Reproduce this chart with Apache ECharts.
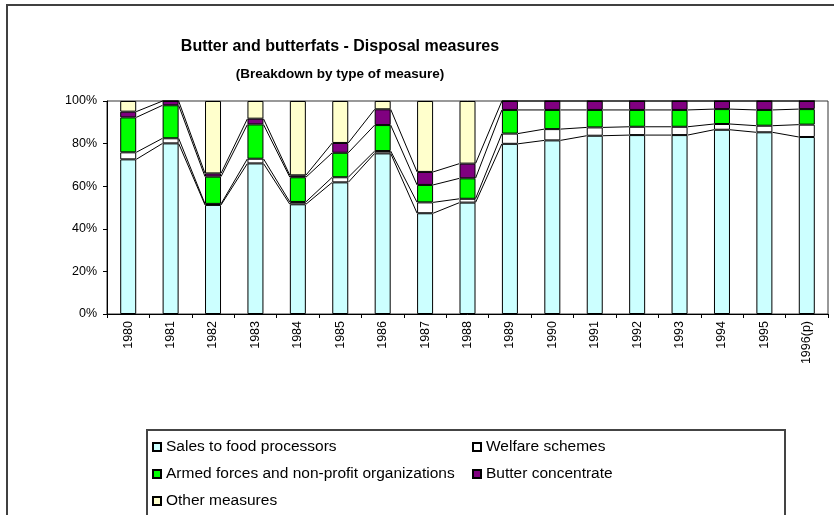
<!DOCTYPE html>
<html lang="en">
<head>
  <meta charset="UTF-8">
  <title>Butter and butterfats - Disposal measures</title>
  <script src="https://cdn.jsdelivr.net/npm/echarts@6/dist/echarts.min.js"></script>
  <style>
    html, body { margin: 0; padding: 0; background: #fff; }
  </style>
</head>
<body>
  <div id="chart" style="width: 834px; height: 515px;"></div>
  <script>
    // years on the x axis
    var years = ['1980', '1981', '1982', '1983', '1984', '1985', '1986', '1987', '1988',
                 '1989', '1990', '1991', '1992', '1993', '1994', '1995', '1996(p)'];

    // shares in %, stacked bottom to top
    var sales   = [72.6, 80.1, 51.2, 70.7, 51.5, 61.8, 75.4, 47.3, 52.3, 79.9, 81.5, 83.7, 84.0, 84.0, 86.5, 85.3, 83.1];
    var welfare = [3.3, 2.4, 0.5, 2.2, 1.1, 2.4, 1.1, 5.1, 1.8, 4.8, 5.3, 3.9, 3.9, 3.9, 2.7, 3.1, 5.8];
    var armed   = [16.4, 15.5, 12.8, 16.1, 11.6, 11.5, 12.2, 8.2, 9.6, 11.1, 9.0, 8.2, 7.9, 7.9, 7.0, 7.4, 7.3];
    var butterC = [2.7, 2.0, 1.5, 2.7, 0.9, 4.6, 7.4, 6.1, 6.9, 4.2, 4.2, 4.2, 4.2, 4.2, 3.8, 4.2, 3.8];
    var other   = [5.0, 0, 34.0, 8.3, 34.9, 19.7, 3.9, 33.3, 29.4, 0, 0, 0, 0, 0, 0, 0, 0];

    var names = ['Sales to food processors', 'Welfare schemes',
                 'Armed forces and non-profit organizations', 'Butter concentrate', 'Other measures'];
    var colors = ['#CCFFFF', '#FFFFFF', '#00FF00', '#800080', '#FFFFCC'];
    var stackList = [sales, welfare, armed, butterC, other];

    var font = 'Liberation Sans, Arial, sans-serif';
    var barW = 16;

    var barSeries = stackList.map(function (arr, k) {
      return {
        name: names[k],
        type: 'bar',
        stack: 'total',
        barWidth: barW,
        data: arr,
        itemStyle: { color: colors[k], borderColor: '#000', borderWidth: 1 }
      };
    });

    // Excel style "series lines" between the segment tops of neighbouring bars
    var seriesLines = {
      type: 'custom',
      silent: true,
      z: 1,
      data: years.map(function (y, i) { return [i, 100]; }),
      encode: { x: 0, y: 1 },
      renderItem: function (params, api) {
        var i = params.dataIndex;
        if (i >= years.length - 1) return;
        var half = barW / 2;
        var kids = [];
        var a = 0, b = 0;
        for (var k = 0; k < 4; k++) {
          a += stackList[k][i];
          b += stackList[k][i + 1];
          var p1 = api.coord([i, a]);
          var p2 = api.coord([i + 1, b]);
          kids.push({
            type: 'line',
            shape: { x1: p1[0] + half, y1: p1[1], x2: p2[0] - half, y2: p2[1] },
            style: { stroke: '#000', lineWidth: 1 }
          });
        }
        return { type: 'group', children: kids };
      }
    };

    var legendText = { fontFamily: font, fontSize: 15.5, color: '#000', lineHeight: 16 };

    function makeLegend(items, left) {
      return {
        data: items,
        orient: 'vertical',
        left: left,
        top: 439,
        height: 150,
        padding: 0,
        icon: 'rect',
        itemWidth: 8,
        itemHeight: 8,
        itemGap: 11,
        textStyle: legendText
      };
    }

    var option = {
      animation: false,
      backgroundColor: '#fff',
      textStyle: { fontFamily: font },
      title: {
        text: 'Butter and butterfats - Disposal measures',
        subtext: '(Breakdown by type of measure)',
        left: 340,
        top: 39,
        padding: 0,
        textAlign: 'center',
        itemGap: 12,
        textStyle: { fontFamily: font, fontSize: 16, fontWeight: 'bold', color: '#000' },
        subtextStyle: { fontFamily: font, fontSize: 13.5, fontWeight: 'bold', color: '#000' }
      },
      graphic: [
        {
          type: 'rect',
          shape: { x: 7, y: 5, width: 900, height: 600 },
          style: { fill: 'none', stroke: '#404040', lineWidth: 2 }
        },
        {
          type: 'rect',
          shape: { x: 147, y: 430, width: 638, height: 200 },
          style: { fill: 'none', stroke: '#444', lineWidth: 2 }
        }
      ],
      legend: [
        makeLegend([names[0], names[2], names[4]], 152),
        makeLegend([names[1], names[3]], 472)
      ],
      grid: {
        left: 107,
        top: 101,
        right: 6,
        bottom: 201,
        show: true,
        borderColor: '#333',
        borderWidth: 1
      },
      xAxis: {
        type: 'category',
        data: years,
        axisLine: { lineStyle: { color: '#000' } },
        axisTick: { show: true, length: 4, lineStyle: { color: '#000' } },
        axisLabel: { rotate: 90, fontSize: 12.5, color: '#000', margin: 7, fontFamily: font }
      },
      yAxis: {
        type: 'value',
        min: 0,
        max: 100,
        interval: 20,
        splitLine: { show: false },
        axisLine: { show: true, lineStyle: { color: '#000' } },
        axisTick: { show: true, length: 4, lineStyle: { color: '#000' } },
        axisLabel: { formatter: '{value}%', fontSize: 12.5, color: '#000', margin: 10, fontFamily: font }
      },
      series: barSeries.concat([seriesLines])
    };

    var chart = echarts.init(document.getElementById('chart'));
    chart.setOption(option);
  </script>
</body>
</html>
